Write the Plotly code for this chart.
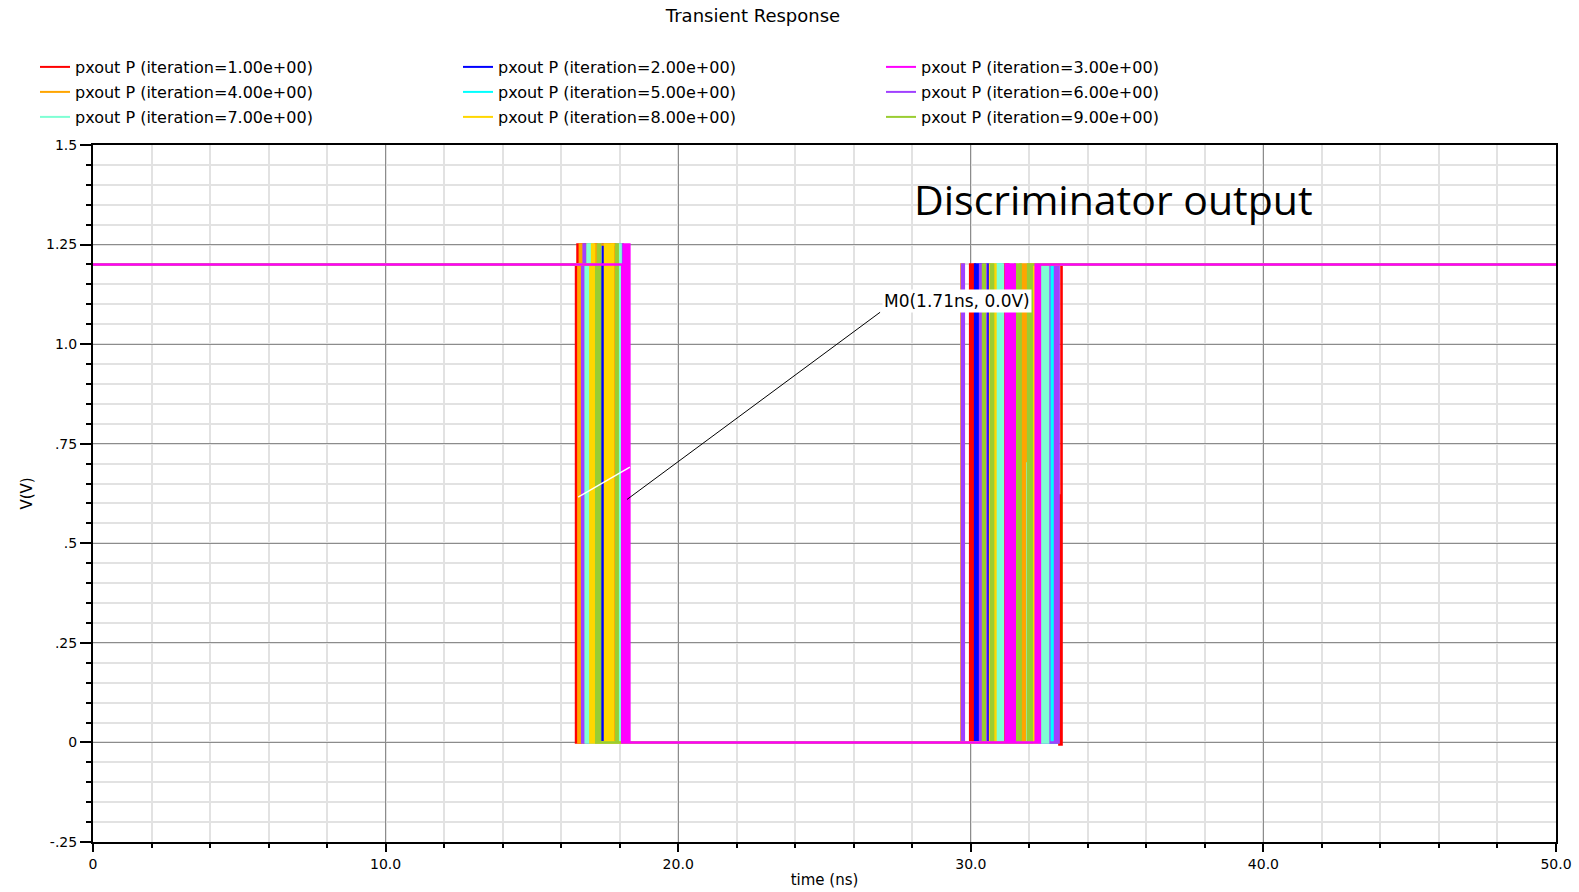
import plotly.graph_objects as go

# ---------------- data ----------------
iterations = [1, 2, 3, 4, 5, 6, 7, 8, 9]
series_names = ["pxout P (iteration=%.2fe+00)" % i for i in iterations]
colors = ["#ff0000", "#0000ff", "#ff00ff", "#ffa500", "#00ffff",
          "#a040ff", "#7fffd4", "#ffd700", "#9acd32"]

# step waveforms: value v[i] holds from t[i] (ns) until t[i+1]
t_it1 = [0, 16.51, 16.56, 16.61, 16.66, 16.80, 16.86, 17.10, 17.16, 17.21, 17.68, 17.74, 17.80, 17.84,
         29.98, 30.04, 30.10, 30.14, 31.12, 31.18, 31.24, 31.28, 32.98, 33.03, 33.10, 50]
v_it1 = [1.2, 0.0, 1.25, 0.0, 1.25, 0.0, 1.25, 0.0, 1.25, 0.0, 1.25, 0.0, 1.25, 0.0,
         1.2, 0.0, 1.2, 0.0, 1.2, 0.0, 1.2, 0.0, 0.62, -0.005, 1.2, 1.2]

t_it2 = [0, 16.97, 17.00, 17.37, 17.42, 17.47, 17.52, 17.56, 17.62, 17.66,
         30.15, 30.21, 30.27, 30.33, 30.38, 30.50, 30.56, 30.62, 32.54, 50]
v_it2 = [1.2, 0.53, 1.2, 0.0, 1.25, 0.0, 1.25, 0.0, 1.25, 0.0,
         1.2, 0.0, 1.2, 0.0, 1.2, 0.0, 1.2, 0.0, 1.2, 1.2]

t_it3 = [0, 18.09, 18.15, 18.21, 18.27, 18.33,
         31.20, 31.26, 31.32, 31.38, 31.44, 31.50, 32.22, 32.28, 32.36, 50]
v_it3 = [1.2, 0.0, 1.25, 0.0, 1.25, 0.0,
         1.2, 0.0, 1.2, 0.0, 1.2, 0.0, 1.2, 0.0, 1.2, 1.2]

t_it4 = [0, 16.59, 16.64, 16.70, 17.18, 17.24, 17.30, 17.54, 17.60, 17.66, 17.72,
         17.86, 17.92, 17.98, 18.04, 18.08,
         29.68, 29.74, 31.70, 31.76, 31.82, 31.88, 31.94, 32.00, 32.06, 50]
v_it4 = [1.2, 0.0, 1.25, 0.0, 1.25, 0.0, 1.25, 0.0, 1.25, 0.0, 1.25,
         0.0, 1.25, 0.0, 1.25, 0.0,
         1.2, 0.0, 1.2, 0.0, 1.2, 0.0, 1.2, 0.0, 1.2, 1.2]

t_it5 = [0, 16.89, 16.94, 16.99, 17.04, 17.09, 17.96, 18.01,
         30.86, 30.92, 31.00, 31.06, 32.40, 32.46, 32.70, 32.76, 32.84, 32.90, 32.94, 50]
v_it5 = [1.2, 0.0, 1.25, 0.0, 0.85, 0.0, 1.25, 0.0,
         1.2, 0.0, 1.2, 0.0, 1.2, 0.0, 1.2, 0.0, 1.2, 0.0, 1.2, 1.2]

t_it6 = [0, 16.72, 16.77, 16.81, 17.95, 18.01, 18.06, 18.10,
         29.70, 29.76, 30.32, 30.38, 30.46, 30.52, 32.62, 32.68, 32.88, 32.94, 33.00, 50]
v_it6 = [1.2, 0.0, 1.25, 0.0, 1.25, 0.0, 1.25, 0.0,
         1.2, 0.0, 1.2, 0.0, 1.2, 0.0, 1.2, 0.0, 1.2, 0.0, 1.2, 1.2]

t_it7 = [0, 16.84, 16.90, 16.96, 17.02, 17.07, 17.97, 18.03,
         30.88, 30.96, 31.04, 31.10, 31.94, 32.00, 32.38, 32.44, 32.52, 32.58, 32.64, 50]
v_it7 = [1.2, 0.0, 1.25, 0.0, 1.25, 0.0, 1.25, 0.0,
         1.2, 0.0, 1.2, 0.0, 0.7, 0.0, 1.2, 0.0, 1.2, 0.0, 1.2, 1.2]

t_it8 = [0, 17.00, 17.06, 17.12, 17.50, 17.56, 17.62, 17.68, 17.74, 17.78,
         30.66, 30.72, 30.78, 30.84, 32.12, 32.18, 32.26, 50]
v_it8 = [1.2, 0.0, 1.25, 0.0, 1.25, 0.0, 1.25, 0.0, 1.25, 0.0,
         1.2, 0.0, 1.2, 0.0, 1.2, 0.0, 1.2, 1.2]

t_it9 = [0, 17.20, 17.26, 17.33, 17.88, 17.93,
         30.42, 30.48, 30.70, 30.76, 31.52, 31.58, 31.64, 31.70, 31.96, 32.02, 32.08, 50]
v_it9 = [1.2, 0.0, 1.25, 0.0, 1.25, 0.0,
         1.2, 0.0, 1.2, 0.0, 1.2, 0.0, 1.2, 0.0, 1.2, 0.0, 1.2, 1.2]

times = [t_it1, t_it2, t_it3, t_it4, t_it5, t_it6, t_it7, t_it8, t_it9]
volts = [v_it1, v_it2, v_it3, v_it4, v_it5, v_it6, v_it7, v_it8, v_it9]

x_tickvals = [0, 10, 20, 30, 40, 50]
x_ticktext = ["0", "10.0", "20.0", "30.0", "40.0", "50.0"]
y_tickvals = [-0.25, 0, 0.25, 0.5, 0.75, 1.0, 1.25, 1.5]
y_ticktext = ["-.25", "0", ".25", ".5", ".75", "1.0", "1.25", "1.5"]

marker_label = "M0(1.71ns, 0.0V)"
note_label = "Discriminator output"

# ---------------- figure ----------------
W, H = 1579, 892
fig = go.Figure()

legend_of = {1: "legend", 2: "legend", 3: "legend",
             4: "legend2", 5: "legend2", 6: "legend2",
             7: "legend3", 8: "legend3", 9: "legend3"}
draw_order = [0, 1, 3, 4, 5, 6, 7, 8, 2]  # magenta drawn on top
for k in draw_order:
    fig.add_trace(go.Scatter(
        x=times[k], y=volts[k], mode="lines", line_shape="hv",
        line=dict(color=colors[k], width=2.6),
        name=series_names[k], legend=legend_of[iterations[k]],
        legendrank=iterations[k], showlegend=False))
# legend entries (thin sample lines as in the reference legend)
for k in range(len(iterations)):
    fig.add_trace(go.Scatter(
        x=[None], y=[None], mode="lines",
        line=dict(color=colors[k], width=2),
        name=series_names[k], legend=legend_of[iterations[k]],
        legendrank=iterations[k], showlegend=True))

font_main = "DejaVu Sans"
grid_major = "#8c8c8c"
grid_minor = "#e2e2e2"

fig.update_xaxes(
    range=[0, 50], tickmode="array", tickvals=x_tickvals, ticktext=x_ticktext,
    automargin=False,
    ticks="outside", ticklen=8, tickwidth=2, tickcolor="black",
    showline=True, linecolor="black", linewidth=2, mirror=True,
    showgrid=True, gridcolor=grid_major, gridwidth=1, zeroline=False,
    tickfont=dict(family=font_main, size=14, color="black"),
    minor=dict(tickmode="linear", tick0=0, dtick=2, ticks="outside", ticklen=4,
               tickwidth=2, tickcolor="black", showgrid=True,
               gridcolor=grid_minor, gridwidth=2),
    title=dict(text="time (ns)", font=dict(family=font_main, size=15, color="black"),
               standoff=4))
fig.update_yaxes(
    range=[-0.25, 1.5], tickmode="array", tickvals=y_tickvals, ticktext=y_ticktext,
    automargin=False,
    ticks="outside", ticklen=11, tickwidth=2, tickcolor="black",
    showline=True, linecolor="black", linewidth=2, mirror=True,
    showgrid=True, gridcolor=grid_major, gridwidth=1, zeroline=False,
    tickfont=dict(family=font_main, size=14, color="black"),
    minor=dict(tickmode="linear", tick0=0, dtick=0.05, ticks="outside", ticklen=5,
               tickwidth=2, tickcolor="black", showgrid=True,
               gridcolor=grid_minor, gridwidth=2),
    title=dict(text="V(V)", font=dict(family=font_main, size=15, color="black"),
               standoff=10))

leg_common = dict(orientation="h", xref="container", yref="container",
                  xanchor="left", yanchor="middle", entrywidth=378,
                  entrywidthmode="pixels", bgcolor="rgba(0,0,0,0)",
                  font=dict(family=font_main, size=16, color="black"),
                  itemclick=False)
fig.update_layout(
    width=W, height=H,
    margin=dict(l=93, r=23, t=145, b=50, autoexpand=False),
    plot_bgcolor="white", paper_bgcolor="white",
    showlegend=True,
    title=dict(text="Transient Response", xref="container", yref="container",
               x=753 / W, xanchor="center", y=1 - 16 / H, yanchor="middle",
               font=dict(family=font_main, size=18, color="black")),
    legend=dict(x=35 / W, y=1 - 67 / H, **leg_common),
    legend2=dict(x=35 / W, y=1 - 92 / H, **leg_common),
    legend3=dict(x=35 / W, y=1 - 117 / H, **leg_common),
)

# marker leader lines
fig.add_shape(type="line", x0=26.9, y0=1.08, x1=18.25, y1=0.61,
              line=dict(color="black", width=1))
fig.add_shape(type="line", x0=16.58, y0=0.616, x1=18.35, y1=0.691,
              line=dict(color="white", width=1.5))

fig.add_annotation(x=26.95, y=1.108, xref="x", yref="y", text=marker_label,
                   showarrow=False, xanchor="left", yanchor="middle",
                   bgcolor="white", borderpad=1,
                   font=dict(family=font_main, size=17, color="black"))
fig.add_annotation(x=27.99, y=1.364, xref="x", yref="y", text=note_label,
                   showarrow=False, xanchor="left", yanchor="middle",
                   font=dict(family="Open Sans", size=41, color="black"))

fig.write_html("out.html")
